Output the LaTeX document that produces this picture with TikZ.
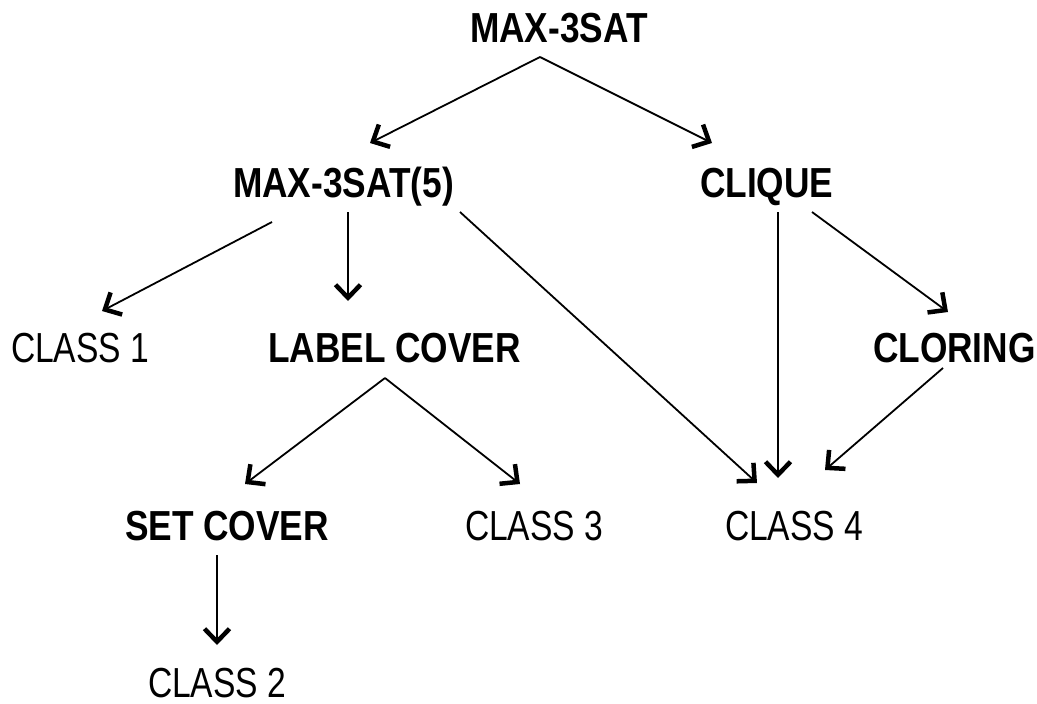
\documentclass[tikz,border=0pt]{standalone}
\usepackage{fontspec}
\setmainfont{Liberation Sans}[FakeStretch=0.8, BoldFeatures={FakeStretch=0.84}]
\usetikzlibrary{arrows.meta}

\begin{document}
\begin{tikzpicture}[
		x=1pt, y=-1pt,
		font=\fontsize{42}{50}\selectfont,
		prob/.style={anchor=base west, inner sep=0pt, outer sep=0pt,
			text height=30pt, text depth=0pt, font=\fontsize{42}{50}\selectfont\bfseries},
		cls/.style={anchor=base west, inner sep=0pt, outer sep=0pt,
			text height=30pt, text depth=0pt},
		redu/.style={line width=1.8pt,
			-{Straight Barb[length=13pt, width=25pt, line width=4.5pt]}}
	]
		\useasboundingbox (0,0) rectangle (1037,704);
		% problemas
		\node[prob] (top) at (470,42) {MAX-3SAT};
		\node[prob] (m5) at (233,197) {MAX-3SAT(5)};
		\node[prob] (clq) at (700,197) {CLIQUE};
		\node[prob] (lab) at (268,362) {LABEL COVER};
		\node[prob] (col) at (873,362) {CLORING};
		\node[prob] (setc) at (125,540) {SET COVER};
		% classes
		\node[cls] (c1) at (11,362) {CLASS 1};
		\node[cls] (c3) at (465,540) {CLASS 3};
		\node[cls] (c4) at (725,540) {CLASS 4};
		\node[cls] (c2) at (148,697) {CLASS 2};
		% MAX-3SAT
		\draw[redu] ([xshift=70pt, yshift=-15pt]top.south west) -- ([xshift=137pt, yshift=24pt]m5.north west);
		\draw[redu] ([xshift=70pt, yshift=-15pt]top.south west) -- ([xshift=12pt, yshift=24pt]clq.north west);
		% MAX-3SAT(5)
		\draw[redu] ([xshift=39pt, yshift=-25pt]m5.south west) -- ([xshift=91pt, yshift=21pt]c1.north west);
		\draw[redu] ([xshift=115pt, yshift=-15pt]m5.south west) -- ([xshift=80pt, yshift=31pt]lab.north west);
		\draw[redu] ([xshift=227pt, yshift=-15pt]m5.south west) -- ([xshift=32pt, yshift=27pt]c4.north west);
		% CLIQUE
		\draw[redu] ([xshift=78pt, yshift=-15pt]clq.south west) -- ([xshift=53pt, yshift=32pt]c4.north west);
		\draw[redu] ([xshift=112pt, yshift=-15pt]clq.south west) -- ([xshift=75pt, yshift=20pt]col.north west);
		\draw[redu] ([xshift=70pt, yshift=-6pt]col.south west) -- ([xshift=100pt, yshift=40pt]c4.north west);
		% LABEL COVER
		\draw[redu] ([xshift=117pt, yshift=-16pt]lab.south west) -- ([xshift=120pt, yshift=26pt]setc.north west);
		\draw[redu] ([xshift=117pt, yshift=-16pt]lab.south west) -- ([xshift=55pt, yshift=26pt]c3.north west);
		% SET COVER
		\draw[redu] ([xshift=92pt, yshift=-15pt]setc.south west) -- ([xshift=69pt, yshift=22pt]c2.north west);
	\end{tikzpicture}
\end{document}
